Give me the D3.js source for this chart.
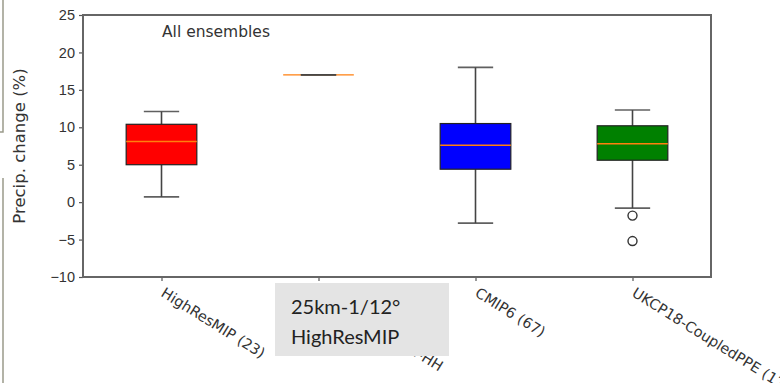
<!DOCTYPE html>
<html lang="en">
<head>
  <meta charset="UTF-8">
  <title>Precip. change - All ensembles</title>
  <script src="https://d3js.org/d3.v7.min.js"></script>
  <style>
    body {
      margin: 0;
      padding: 0;
      background: #fff;
    }
    svg {
      display: block;
      font-family: "DejaVu Sans", sans-serif;
    }
    .tick-label {
      font-size: 14.5px;
      fill: #333;
    }
  </style>
</head>
<body>
  <script>
    // ensemble groups (x categories)
    const categories = ["HighResMIP (23)", "HadGEM3-GC31-HH", "CMIP6 (67)", "UKCP18-CoupledPPE (12)"];
    const boxColors = ["#ff0000", "#ff0000", "#0000ff", "#008000"];

    // box statistics (%)
    const whiskerLow  = [0.7, 17.0, -2.8, -0.8];
    const q1          = [5.0, 17.0, 4.4, 5.6];
    const median      = [8.1, 17.0, 7.6, 7.8];
    const q3          = [10.4, 17.0, 10.5, 10.2];
    const whiskerHigh = [12.1, 17.0, 18.0, 12.3];
    const fliers      = [[], [], [], [-1.8, -5.2]];

    const yTicks = [-10, -5, 0, 5, 10, 15, 20, 25];

    const width = 780, height = 383;
    const plot = { left: 83, right: 711, top: 15, bottom: 277 };

    const svg = d3.select("body").append("svg")
      .attr("width", width)
      .attr("height", height);

    // bits of the neighbouring figure at the left edge
    svg.append("path")
      .attr("d", "M3,0V132H0M3,178V383")
      .attr("fill", "none")
      .attr("stroke", "#9a9a8a")
      .attr("stroke-width", 1.5);

    const x = d3.scalePoint()
      .domain(categories)
      .range([plot.left, plot.right])
      .padding(0.5);

    const y = d3.scaleLinear()
      .domain([-10, 25])
      .range([plot.bottom, plot.top]);

    const boxW = x.step() * 0.45;
    const capW = boxW / 2;

    // y axis
    const yAxis = svg.append("g")
      .attr("transform", `translate(${plot.left},0)`)
      .call(d3.axisLeft(y).tickValues(yTicks).tickSize(4).tickPadding(4)
        .tickFormat(d => d < 0 ? "\u2212" + Math.abs(d) : d));
    yAxis.select(".domain").remove();
    yAxis.selectAll("line").attr("stroke", "#555").attr("stroke-width", 1.2);
    yAxis.selectAll("text").attr("class", "tick-label").attr("fill", "#333");

    // x axis ticks
    const xAxis = svg.append("g")
      .attr("transform", `translate(0,${plot.bottom})`)
      .call(d3.axisBottom(x).tickSize(4).tickFormat(""));
    xAxis.select(".domain").remove();
    xAxis.selectAll("line").attr("stroke", "#555").attr("stroke-width", 1.2);

    // rotated category labels (the last one runs off the right edge, as in the source)
    svg.append("g")
      .selectAll("text")
      .data(categories)
      .join("text")
      .attr("class", "tick-label")
      .attr("transform", d => `translate(${x(d) + 4},${plot.bottom + 10}) rotate(32)`)
      .attr("dy", "0.7em")
      .attr("text-anchor", "start")
      .text(d => d);

    // frame
    svg.append("rect")
      .attr("x", plot.left)
      .attr("y", plot.top)
      .attr("width", plot.right - plot.left)
      .attr("height", plot.bottom - plot.top)
      .attr("fill", "none")
      .attr("stroke", "#666")
      .attr("stroke-width", 2);

    const boxes = svg.append("g")
      .selectAll("g")
      .data(categories)
      .join("g")
      .attr("transform", d => `translate(${x(d)},0)`);

    // whiskers
    boxes.append("line")
      .attr("y1", (d, i) => y(whiskerLow[i]))
      .attr("y2", (d, i) => y(q1[i]))
      .attr("stroke", "#444").attr("stroke-width", 1.6);
    boxes.append("line")
      .attr("y1", (d, i) => y(q3[i]))
      .attr("y2", (d, i) => y(whiskerHigh[i]))
      .attr("stroke", "#444").attr("stroke-width", 1.6);

    // boxes
    boxes.append("rect")
      .attr("x", -boxW / 2)
      .attr("width", boxW)
      .attr("y", (d, i) => y(q3[i]))
      .attr("height", (d, i) => y(q1[i]) - y(q3[i]))
      .attr("fill", (d, i) => boxColors[i])
      .attr("stroke", (d, i) => q3[i] === q1[i] ? "none" : "#222")
      .attr("stroke-width", 1.2);

    // medians
    boxes.append("line")
      .attr("x1", -boxW / 2)
      .attr("x2", boxW / 2)
      .attr("y1", (d, i) => y(median[i]))
      .attr("y2", (d, i) => y(median[i]))
      .attr("stroke", "#ff7f0e")
      .attr("stroke-width", 1.3);

    // caps
    boxes.selectAll("line.cap")
      .data((d, i) => [whiskerLow[i], whiskerHigh[i]])
      .join("line")
      .attr("class", "cap")
      .attr("x1", -capW / 2)
      .attr("x2", capW / 2)
      .attr("y1", v => y(v))
      .attr("y2", v => y(v))
      .attr("stroke", "#444")
      .attr("stroke-opacity", 0.85)
      .attr("stroke-width", 1.6);

    // outliers
    boxes.selectAll("circle")
      .data((d, i) => fliers[i])
      .join("circle")
      .attr("cy", v => y(v))
      .attr("r", 4.5)
      .attr("fill", "none")
      .attr("stroke", "#333")
      .attr("stroke-width", 1.4);

    // panel title
    svg.append("text")
      .attr("x", 162)
      .attr("y", 37)
      .attr("fill", "#333")
      .style("font-size", "15.5px")
      .text("All ensembles");

    // y label
    svg.append("text")
      .attr("transform", `translate(25,${(plot.top + plot.bottom) / 2}) rotate(-90)`)
      .attr("text-anchor", "middle")
      .attr("fill", "#333")
      .style("font-size", "16.5px")
      .text("Precip. change (%)");

    // grey callout pasted over the second label
    const note = svg.append("g").attr("transform", "translate(275,283)");
    note.append("rect")
      .attr("width", 174)
      .attr("height", 73)
      .attr("fill", "#e4e4e4");
    note.selectAll("text")
      .data(["25km-1/12\u00b0", "HighResMIP"])
      .join("text")
      .attr("x", 16)
      .attr("y", (d, i) => 31 + i * 30)
      .attr("fill", "#222")
      .style("font-family", "Lato, 'Open Sans', sans-serif")
      .style("font-size", "20px")
      .text(d => d);
  </script>
</body>
</html>
